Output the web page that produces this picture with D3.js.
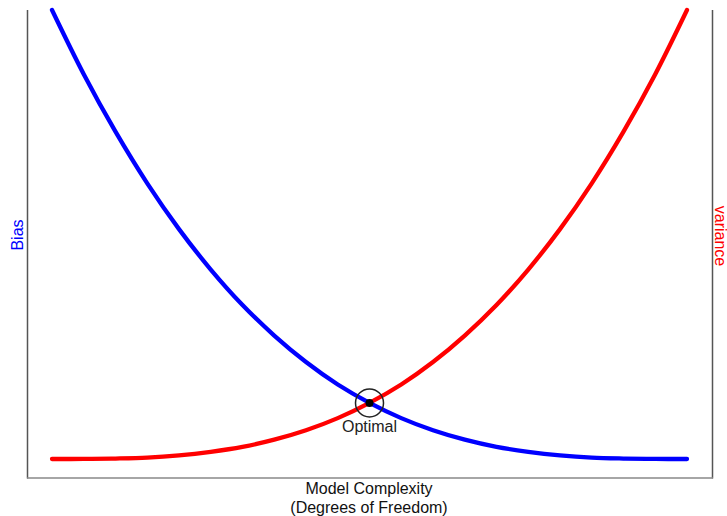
<!DOCTYPE html>
<html>
<head>
<meta charset="utf-8">
<script src="https://cdn.jsdelivr.net/npm/d3@7"></script>
<style>
html,body{margin:0;padding:0;background:#fff;}
svg{display:block;}
text{font-family:"Liberation Sans",Arial,sans-serif;}
</style>
</head>
<body>
<svg id="chart" width="727" height="516"></svg>
<script>
// Model complexity (normalised)
const complexity = [0,0.05,0.1,0.15,0.2,0.25,0.3,0.35,0.4,0.45,0.5,0.55,0.6,0.65,0.7,0.75,0.8,0.85,0.9,0.95,1];
const bias = [1.000,0.857,0.729,0.614,0.512,0.422,0.343,0.275,0.216,0.166,0.125,0.091,0.064,0.043,0.027,0.016,0.008,0.003,0.001,0.0001,0];
const variance = [0,0.0001,0.001,0.003,0.008,0.016,0.027,0.043,0.064,0.091,0.125,0.166,0.216,0.275,0.343,0.422,0.512,0.614,0.729,0.857,1.000];
const optimal = {x: 0.5, y: 0.125, label: "Optimal"};
const xTitle = ["Model Complexity", "(Degrees of Freedom)"];

const svg = d3.select("#chart");
const x = d3.scaleLinear().domain([0,1]).range([52,687]);
const y = d3.scaleLinear().domain([0,1]).range([459,10]);

// frame
svg.append("line").attr("x1",27.5).attr("x2",27.5).attr("y1",10).attr("y2",478.5).attr("stroke","#555").attr("stroke-width",1.5);
svg.append("line").attr("x1",712.5).attr("x2",712.5).attr("y1",10).attr("y2",478.5).attr("stroke","#555").attr("stroke-width",1.5);
svg.append("line").attr("x1",27).attr("x2",713).attr("y1",478).attr("y2",478).attr("stroke","#888").attr("stroke-width",1.5);

const line = d3.line().curve(d3.curveCatmullRom).x((d,i)=>x(complexity[i])).y(d=>y(d));
svg.append("path").datum(variance).attr("d",line).attr("fill","none").attr("stroke","#ff0000").attr("stroke-width",4.3).attr("stroke-linecap","round");
svg.append("path").datum(bias).attr("d",line).attr("fill","none").attr("stroke","#0000ff").attr("stroke-width",4.3).attr("stroke-linecap","round");

svg.append("circle").attr("cx",x(optimal.x)).attr("cy",y(optimal.y)).attr("r",14).attr("fill","none").attr("stroke","#222").attr("stroke-width",1.5);
svg.append("circle").attr("cx",x(optimal.x)).attr("cy",y(optimal.y)).attr("r",4).attr("fill","#000");
svg.append("text").attr("x",x(optimal.x)).attr("y",y(optimal.y)+29).attr("text-anchor","middle").attr("font-size",16).attr("fill","#222").text(optimal.label);

svg.append("text").attr("x",369).attr("y",494).attr("text-anchor","middle").attr("font-size",16).attr("fill","#111").text(xTitle[0]);
svg.append("text").attr("x",369).attr("y",513).attr("text-anchor","middle").attr("font-size",16).attr("fill","#111").text(xTitle[1]);

svg.append("text").attr("transform","translate(23,235) rotate(-90)").attr("text-anchor","middle").attr("font-size",16).attr("fill","#0000ff").text("Bias");
svg.append("text").attr("transform","translate(714.5,236) rotate(90)").attr("text-anchor","middle").attr("font-size",16).attr("fill","#ff0000").text("variance");
</script>
</body>
</html>
